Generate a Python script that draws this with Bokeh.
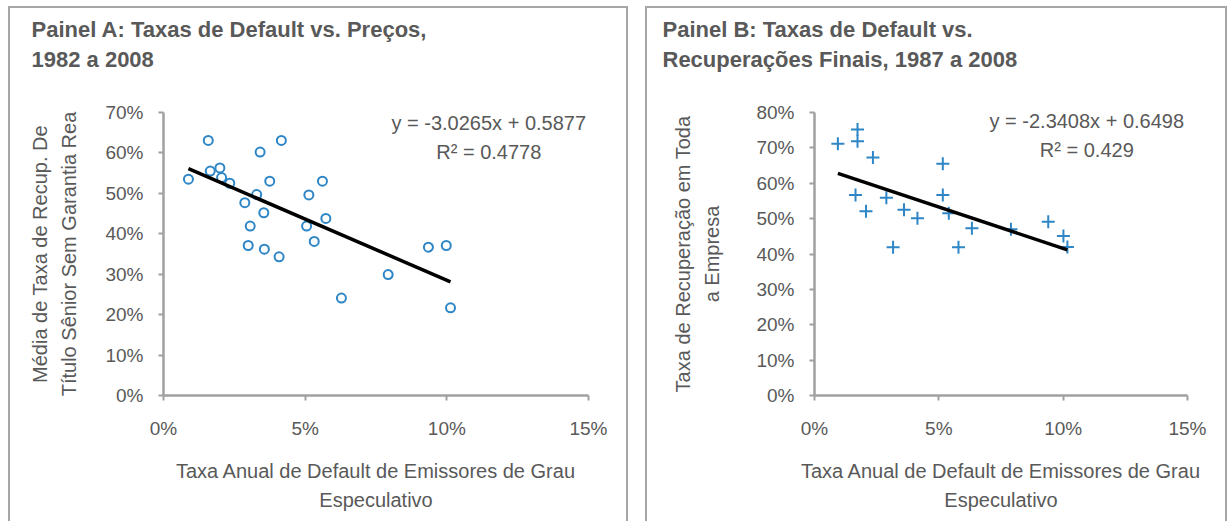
from bokeh.plotting import figure
from bokeh.models import Range1d, FixedTicker, NumeralTickFormatter, Label, Title
from bokeh.layouts import row
from bokeh.embed import file_html
from bokeh.resources import INLINE

# ---------------- data ----------------
# Panel A: default rate vs. average recovery price (senior unsecured), 1982-2008
a_default = [0.0088, 0.0158, 0.0165, 0.0199, 0.0205, 0.0234, 0.0287, 0.0329, 0.0341,
             0.0375, 0.0354, 0.0306, 0.0299, 0.0356, 0.0408, 0.0416, 0.0513, 0.0561,
             0.0573, 0.0505, 0.0532, 0.0628, 0.0793, 0.0935, 0.0998, 0.1013]
a_recovery = [0.535, 0.631, 0.555, 0.563, 0.539, 0.525, 0.477, 0.497, 0.602,
              0.530, 0.452, 0.419, 0.371, 0.362, 0.343, 0.631, 0.496, 0.530,
              0.438, 0.419, 0.381, 0.241, 0.299, 0.367, 0.371, 0.217]
a_slope, a_intercept, a_r2 = -3.0265, 0.5877, 0.4778

# Panel B: default rate vs. ultimate firm-wide recovery, 1987-2008
b_default = [0.0094, 0.0173, 0.0173, 0.0235, 0.0165, 0.0207, 0.0289, 0.0360, 0.0414,
             0.0316, 0.0516, 0.0516, 0.0540, 0.0633, 0.0579, 0.0790, 0.0940, 0.1001,
             0.1017]
b_recovery = [0.712, 0.752, 0.719, 0.673, 0.567, 0.521, 0.559, 0.525, 0.501,
              0.419, 0.655, 0.567, 0.515, 0.473, 0.419, 0.470, 0.491, 0.451,
              0.420]
b_slope, b_intercept, b_r2 = -2.3408, 0.6498, 0.429

x_ticks = [0.0, 0.05, 0.10, 0.15]
a_y_ticks = [0.0, 0.1, 0.2, 0.3, 0.4, 0.5, 0.6, 0.7]
b_y_ticks = [0.0, 0.1, 0.2, 0.3, 0.4, 0.5, 0.6, 0.7, 0.8]

title_a = "Painel A: Taxas de Default vs. Preços,\n1982 a 2008"
title_b = "Painel B: Taxas de Default vs.\nRecuperações Finais, 1987 a 2008"
ylabel_a = "Média de Taxa de Recup. De\nTítulo Sênior Sem Garantia Rea"
ylabel_b = "Taxa de Recuperação em Toda\na Empresa"
xlabel = "Taxa Anual de Default de Emissores de Grau\nEspeculativo"

# ---------------- style ----------------
FONT = "Liberation Sans"
TXT = "#595959"
AXIS = "#A0A0A0"
BLUE = "#2E86C6"
BORDER = {"border-left": "2px solid #A6A6A6", "border-top": "2px solid #A6A6A6",
          "border-right": "2px solid #A6A6A6", "box-sizing": "border-box"}


def make_panel(width, height, xmax, ymax, yticks, mb_left, mb_right, mb_bottom,
               ylabel, ylab_standoff, title, title_offset):
    p = figure(width=width, height=height, output_backend="svg", toolbar_location=None,
               x_range=Range1d(0, xmax), y_range=Range1d(0, ymax),
               min_border_left=mb_left, min_border_right=mb_right,
               min_border_top=0, min_border_bottom=mb_bottom,
               title=None, styles=BORDER)
    # spacer between the title block and the plot frame (closest to frame)
    p.add_layout(Title(text=" ", text_font_size="10px", standoff=21), "above")
    # two-line panel title (outermost)
    p.add_layout(Title(text=title, align="left", offset=title_offset, standoff=13,
                       vertical_align="bottom",
                       text_font=FONT, text_font_size="22px", text_font_style="bold",
                       text_color=TXT, text_line_height=1.2), "above")
    p.outline_line_color = None
    p.grid.visible = False
    p.background_fill_color = "white"
    p.border_fill_color = "white"
    for ax in (p.xaxis[0], p.yaxis[0]):
        ax.axis_line_color = AXIS
        ax.axis_line_width = 2.5
        ax.major_tick_line_color = AXIS
        ax.major_tick_line_width = 2
        ax.major_tick_in = 0
        ax.major_tick_out = 5
        ax.minor_tick_line_color = None
        ax.major_label_text_font = FONT
        ax.major_label_text_font_size = "19px"
        ax.major_label_text_color = TXT
        ax.axis_label_text_font = FONT
        ax.axis_label_text_font_size = "20px"
        ax.axis_label_text_font_style = "normal"
        ax.axis_label_text_color = TXT
        ax.axis_label_text_line_height = 1.35
        ax.formatter = NumeralTickFormatter(format="0%")
    p.xaxis[0].ticker = FixedTicker(ticks=x_ticks)
    p.yaxis[0].ticker = FixedTicker(ticks=yticks)
    p.xaxis[0].major_label_standoff = 17
    p.yaxis[0].major_label_standoff = 15
    p.xaxis[0].axis_label = xlabel
    p.xaxis[0].axis_label_standoff = 18
    p.yaxis[0].axis_label = ylabel
    p.yaxis[0].axis_label_standoff = ylab_standoff
    return p


def add_equation(p, x, y1, y2, slope, intercept, r2):
    eq = f"y = {slope:.4f}x + {intercept:.4f}"
    r2t = f"R² = {r2}"
    for yy, t in ((y1, eq), (y2, r2t)):
        p.add_layout(Label(x=x, y=yy, text=t, text_font=FONT,
                           text_font_size="20px", text_color=TXT,
                           text_align="center", text_baseline="middle"))


# ---------------- Panel A ----------------
pa = make_panel(620, 515, 0.15, 0.70, a_y_ticks, 153, 42, 126, ylabel_a, 22,
                title_a, -132)
pa.scatter(a_default, a_recovery, marker="circle", size=9, line_color=BLUE,
           line_width=2, fill_color="white")
ax0, ax1 = min(a_default), max(a_default)
pa.line([ax0, ax1], [a_slope * ax0 + a_intercept, a_slope * ax1 + a_intercept],
        line_color="black", line_width=3.5)
add_equation(pa, 0.1148, 0.675, 0.603, a_slope, a_intercept, a_r2)

# ---------------- Panel B ----------------
pb = make_panel(582, 515, 0.15, 0.80, b_y_ticks, 167, 42, 128, ylabel_b, 30,
                title_b, -152)
pb.scatter(b_default, b_recovery, marker="cross", size=13, line_color=BLUE,
           line_width=2)
bx0, bx1 = min(b_default), max(b_default)
pb.line([bx0, bx1], [b_slope * bx0 + b_intercept, b_slope * bx1 + b_intercept],
        line_color="black", line_width=3.5)
add_equation(pb, 0.1095, 0.775, 0.695, b_slope, b_intercept, b_r2)

layout = row(pa, pb, spacing=17, styles={"margin-left": "8px", "margin-top": "6px"})
open("out.html", "w").write(file_html(layout, INLINE))
